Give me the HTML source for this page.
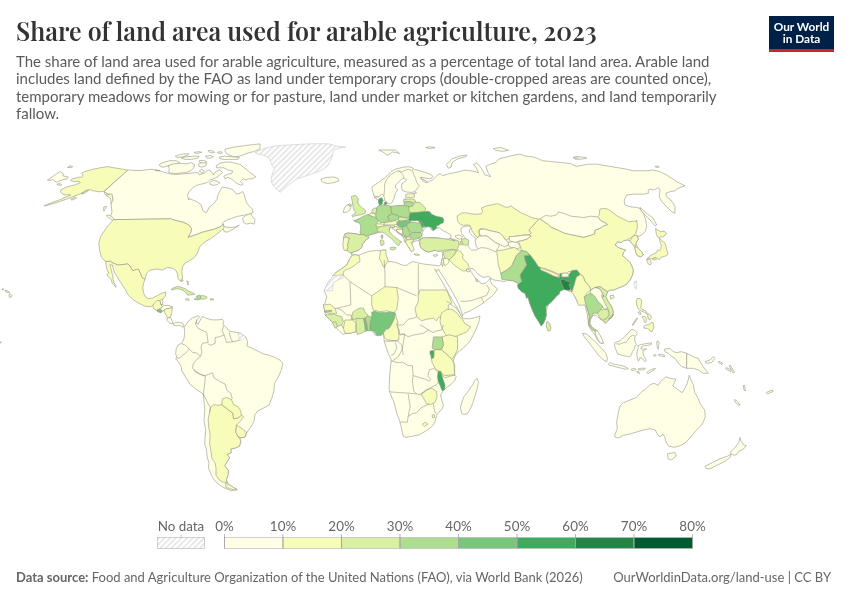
<!DOCTYPE html>
<html><head><meta charset="utf-8">
<style>
html,body{margin:0;padding:0;background:#fff;}
body{width:850px;height:600px;position:relative;overflow:hidden;font-family:"Lato","Liberation Sans",sans-serif;}
.t{position:absolute;white-space:nowrap;filter:grayscale(1);}
#title{left:16px;top:14.6px;transform:scaleY(1.07);transform-origin:0 26px;font-family:"Playfair Display","Liberation Serif",serif;font-weight:600;font-size:25px;line-height:32px;color:#333;}
#sub{left:16px;top:52.6px;font-size:15px;line-height:17.6px;color:#5b5b5b;}
#logo{position:absolute;left:769px;top:16px;width:65px;height:33px;background:#002147;border-bottom:3px solid #ce261e;}
#logo div{filter:grayscale(1);position:absolute;left:0;width:65px;text-align:center;color:#fff;font-weight:700;font-size:11.8px;line-height:12px;}
.lg{position:absolute;font-size:12.5px;color:#5b5b5b;}
#foot1{left:16px;top:568.5px;font-size:13px;color:#666;}
#foot2{right:19px;top:568.5px;font-size:13px;color:#666;}
svg{position:absolute;left:0;top:0;}
</style></head>
<body>
<div class="t" id="title">Share of land area used for arable agriculture, 2023</div>
<div class="t" id="sub">The share of land area used for arable agriculture, measured as a percentage of total land area. Arable land<br>includes land defined by the FAO as land under temporary crops (double-cropped areas are counted once),<br>temporary meadows for mowing or for pasture, land under market or kitchen gardens, and land temporarily<br>fallow.</div>
<div id="logo"><div style="top:4.6px">Our World</div><div style="top:16.6px">in Data</div></div>

<svg width="850" height="600" viewBox="0 0 850 600">
<defs>
<pattern id="hatch" patternUnits="userSpaceOnUse" width="4" height="4" patternTransform="rotate(45)">
<rect width="4" height="4" fill="#fff"/><rect width="1.5" height="4" fill="#e2e2e2"/>
</pattern>
</defs>
<g id="map" stroke-linejoin="round">
<path fill="#f7fcb9" stroke="#96968a" stroke-width="0.6" d="M127.9,170.1 113.1,167.6 107.8,166.6 99.3,167.9 91.9,169.5 84.5,171.6 81.8,173.2 82.9,175.9 81.8,177.5 80.2,176.9 71.8,179.1 70.7,180.6 73.9,181.7 79.2,181.2 80.2,182.8 74.9,184.9 66.5,187.0 61.2,189.6 60.6,191.8 62.2,193.9 65.4,194.9 70.7,194.9 61.2,199.2 44.2,205.5 44.8,206.1 59.1,201.8 71.8,197.1 80.2,193.9 86.6,190.2 89.8,189.6 92.9,190.7 99.3,191.8 104.1,191.2Z"/>
<path fill="#f7fcb9" stroke="#96968a" stroke-width="0.6" d="M104.3,191.3 106.3,192.3 107.0,195.0 109.0,194.3 112.0,193.0 113.0,195.0 112.7,198.3 113.0,200.3 114.3,202.3 112.3,203.7 111.0,204.3 111.0,201.0 110.3,198.3 108.3,196.3 106.0,195.7 104.3,193.0Z"/>
<path fill="#ffffe5" stroke="#96968a" stroke-width="0.6" d="M47.4,180.1 60.1,171.6 63.3,173.8 62.8,175.9 68.1,176.9 67.0,179.1 62.8,179.6 56.4,182.2 52.7,179.6 47.9,180.6Z"/>
<path fill="#f7fcb9" stroke="#96968a" stroke-width="0.6" d="M67.5,167.4 70.2,165.8 72.8,166.6 71.8,167.4Z"/>
<path fill="#f7fcb9" stroke="#96968a" stroke-width="0.6" d="M56.9,184.1 60.1,183.5 61.7,184.9 59.1,185.4Z"/>
<path fill="#f7fcb9" stroke="#96968a" stroke-width="0.6" d="M70.7,199.2 74.9,197.1 76.5,198.1 71.8,200.2Z"/>
<path fill="#f7fcb9" stroke="#96968a" stroke-width="0.6" d="M81.3,193.9 86.6,190.7 88.7,190.2 84.5,193.4Z"/>
<path fill="#ffffe5" stroke="#96968a" stroke-width="0.6" d="M128.0,170.0 140.0,170.6 152.0,169.2 160.0,170.6 155.2,170.4 160.4,171.1 166.8,173.0 172.0,174.3 178.5,174.3 186.2,173.6 192.7,173.0 197.9,172.4 199.2,174.9 204.4,173.0 208.2,169.8 210.8,171.1 213.4,174.9 214.7,172.4 217.3,171.1 219.9,169.8 222.5,172.4 219.9,174.9 217.3,176.9 213.4,178.8 209.5,180.1 206.9,182.7 201.8,184.0 196.6,185.3 192.7,187.9 188.8,191.8 187.5,195.6 188.8,200.0 188.8,198.5 195.9,201.2 201.2,204.7 202.9,210.9 206.5,212.6 209.1,207.3 213.5,203.8 217.1,199.4 217.9,195.0 220.6,189.7 222.3,187.1 227.6,187.9 232.9,189.7 236.5,194.1 240.0,193.2 242.6,191.5 244.4,195.0 246.2,202.1 248.8,205.6 252.3,209.1 253.2,212.6 248.8,214.4 243.5,215.3 238.2,216.2 232.9,217.9 227.6,219.7 224.1,221.5 222.3,224.1 223.2,224.1 220.6,226.8 213.5,229.4 202.9,232.1 195.9,234.7 187.9,237.4 190.6,232.9 191.5,228.5 188.8,225.0 183.5,222.4 172.9,219.7 171.2,218.8 112.9,219.7 110.0,218.0 112.0,212.0 111.0,204.0 113.0,200.0 112.0,194.0 108.0,194.0 104.0,191.6Z"/>
<path fill="#ffffe5" stroke="#96968a" stroke-width="0.6" d="M106.3,215.7 109.0,215.0 113.0,217.7 114.3,219.7 113.7,221.3 111.7,219.7 108.3,217.7Z"/>
<path fill="#ffffe5" stroke="#96968a" stroke-width="0.6" d="M103.7,207.0 106.7,206.3 105.0,209.0 104.0,211.3 103.5,209.7Z"/>
<path fill="#ffffe5" stroke="#96968a" stroke-width="0.6" d="M222.3,224.1 225.0,226.8 230.3,227.6 236.5,226.8 239.1,225.0 232.9,229.4 227.6,232.1 224.1,231.7Z"/>
<path fill="#ffffe5" stroke="#96968a" stroke-width="0.6" d="M242.6,217.9 246.2,215.3 250.6,213.5 252.3,216.2 255.0,219.7 254.1,224.1 250.6,223.2 246.2,224.1 243.5,222.3Z"/>
<path fill="#ffffe5" stroke="#96968a" stroke-width="0.6" d="M159.1,164.6 162.9,162.6 169.4,160.7 175.9,160.7 179.8,162.6 177.8,163.9 170.7,165.2 162.9,167.2 160.4,166.5Z"/>
<path fill="#ffffe5" stroke="#96968a" stroke-width="0.6" d="M168.1,165.9 173.3,163.9 179.8,163.3 186.2,163.9 191.4,162.6 194.6,164.6 194.0,167.8 190.1,171.1 186.2,172.4 181.1,173.0 175.9,173.6 170.7,173.0 168.1,171.7 169.4,169.8 168.8,167.2Z"/>
<path fill="#ffffe5" stroke="#96968a" stroke-width="0.6" d="M198.5,163.9 203.1,162.0 206.9,163.3 205.6,165.9 201.8,167.2 199.2,166.5Z"/>
<path fill="#ffffe5" stroke="#96968a" stroke-width="0.6" d="M199.2,171.1 201.8,169.1 204.4,171.1 201.8,173.0Z"/>
<path fill="#ffffe5" stroke="#96968a" stroke-width="0.6" d="M216.0,165.9 219.9,163.3 225.1,162.0 230.2,162.0 235.4,163.3 240.6,164.6 243.2,167.2 247.1,169.8 249.7,172.4 253.5,174.9 256.1,176.9 252.2,178.8 248.4,178.8 245.8,180.1 243.2,178.8 240.6,181.4 243.2,184.0 241.9,185.3 238.0,184.0 234.1,181.4 231.5,178.8 227.6,177.5 225.1,178.8 223.8,176.2 227.6,174.3 231.5,173.6 232.8,171.1 227.6,169.8 223.8,167.8 219.9,167.8 216.6,167.8Z"/>
<path fill="#ffffe5" stroke="#96968a" stroke-width="0.6" d="M209.5,182.7 213.4,180.1 217.3,181.4 219.9,182.7 217.3,184.6 213.4,185.3 210.2,184.6Z"/>
<path fill="#ffffe5" stroke="#96968a" stroke-width="0.6" d="M225.1,149.1 234.1,147.1 243.2,145.8 253.5,144.5 260.0,143.9 260.0,149.1 253.5,151.6 248.4,152.9 243.2,154.9 239.3,156.2 234.1,156.8 230.2,155.5 226.4,153.6 225.1,151.6Z"/>
<path fill="#ffffe5" stroke="#96968a" stroke-width="0.6" d="M219.9,156.8 225.1,156.2 232.8,156.8 239.3,157.5 238.0,159.4 230.2,159.4 222.5,159.4 219.2,158.1Z"/>
<path fill="#ffffe5" stroke="#96968a" stroke-width="0.6" d="M208.2,150.4 213.4,151.0 214.7,152.3 210.8,152.9 208.9,151.9Z"/>
<path fill="#ffffe5" stroke="#96968a" stroke-width="0.6" d="M217.3,152.3 221.2,151.6 222.5,152.9 218.6,153.6Z"/>
<path fill="#ffffe5" stroke="#96968a" stroke-width="0.6" d="M205.6,156.2 210.8,155.5 213.4,156.8 210.8,158.1 206.9,158.1Z"/>
<path fill="#ffffe5" stroke="#96968a" stroke-width="0.6" d="M175.2,156.2 181.1,154.2 188.8,153.6 187.5,155.5 182.4,156.8 177.2,157.5Z"/>
<path fill="#ffffe5" stroke="#96968a" stroke-width="0.6" d="M181.1,158.1 186.2,156.8 192.7,156.2 199.2,156.2 197.9,158.1 191.4,159.4 184.9,159.4Z"/>
<path fill="#ffffe5" stroke="#96968a" stroke-width="0.6" d="M194.0,152.3 199.2,151.6 201.8,152.3 196.6,153.6Z"/>
<path fill="#ffffe5" stroke="#96968a" stroke-width="0.6" d="M199.2,160.7 204.4,160.4 206.9,162.0 203.1,163.0 199.8,162.3Z"/>
<path fill="url(#hatch)" stroke="#c9c9c9" stroke-width="0.6" d="M255.0,152.6 264.7,148.2 275.3,145.9 292.9,144.7 310.6,143.8 328.2,143.8 338.8,146.5 345.9,147.0 337.9,148.2 333.5,150.9 331.8,157.9 328.2,165.0 322.9,169.4 317.6,172.1 307.1,175.6 296.5,179.1 289.4,184.4 284.1,188.8 280.6,192.3 277.1,189.7 273.5,186.2 270.9,180.9 271.8,175.6 274.4,168.5 271.8,165.0 269.1,157.9 261.2,154.4 255.9,153.5Z"/>
<path fill="#ffffe5" stroke="#96968a" stroke-width="0.6" d="M321.2,179.1 326.5,177.4 333.5,177.0 337.9,178.2 338.8,180.9 333.5,182.6 328.2,183.5 323.8,182.6 321.5,181.2Z"/>
<path fill="#f7fcb9" stroke="#96968a" stroke-width="0.6" d="M112.9,219.7 171.2,218.8 172.9,219.7 183.5,222.4 188.8,225.0 191.5,228.5 190.6,232.9 187.9,237.4 195.9,234.7 202.9,232.1 213.5,229.4 220.6,226.8 223.2,224.1 224.1,227.6 221.5,230.3 217.1,233.8 213.5,236.5 210.0,239.1 206.5,240.9 202.9,243.5 200.3,246.2 198.5,249.7 197.6,253.2 194.1,257.6 188.8,261.2 185.3,262.9 182.6,266.5 181.8,271.8 182.6,277.9 180.9,281.5 178.2,278.8 177.3,273.5 175.6,270.0 172.1,268.2 167.6,267.3 162.3,270.0 157.1,269.1 150.0,270.0 146.5,273.5 145.0,279.4 142.0,277.5 140.5,273.8 138.6,269.6 136.8,269.3 133.0,270.8 131.5,268.9 130.0,265.9 127.8,264.0 124.0,264.4 118.0,265.1 112.8,262.9 110.5,261.4 105.6,261.4 101.5,257.6 99.7,250.6 98.8,243.5 100.6,236.5 104.1,231.2 107.6,225.9 111.2,222.4Z"/>
<path fill="#f7fcb9" stroke="#96968a" stroke-width="0.6" d="M105.6,261.4 110.5,261.4 112.8,262.9 118.0,265.1 124.0,264.4 127.8,264.0 130.0,265.9 131.5,268.9 133.0,270.8 136.8,269.3 138.6,269.6 140.5,273.8 142.0,277.5 145.0,279.4 143.5,283.5 142.8,288.0 143.5,292.5 145.0,296.3 148.0,298.5 152.5,298.1 158.8,294.7 162.3,292.9 165.9,292.1 165.0,296.5 162.3,300.0 160.6,301.8 155.3,303.5 150.9,306.7 144.7,306.2 137.6,302.6 132.4,299.1 127.9,294.7 125.3,289.4 123.3,286.5 121.0,282.8 118.8,279.8 117.3,276.8 114.3,272.3 113.1,267.8 112.4,265.1 111.3,264.8 110.1,264.6 110.5,267.0 111.3,270.0 112.0,273.0 112.8,276.0 113.1,279.8 113.9,282.8 116.1,285.8 115.8,287.3 114.3,285.0 112.0,282.8 111.3,279.8 108.3,276.8 106.8,274.5 109.0,273.0 107.1,270.0 106.0,264.8Z"/>
<path fill="#d9f0a3" stroke="#96968a" stroke-width="0.6" d="M171.1,289.5 173.5,287.8 176.4,286.7 179.9,286.7 182.7,287.8 185.5,288.8 187.6,290.6 190.5,292.0 193.3,293.1 194.7,294.1 192.6,294.8 189.8,294.8 187.6,295.2 186.6,293.8 185.2,292.0 182.7,290.2 179.9,289.2 177.1,288.8 174.2,289.2 172.1,290.2Z"/>
<path fill="#f7fcb9" stroke="#96968a" stroke-width="0.6" d="M186.6,281.1 188.0,281.4 188.5,282.8 187.3,282.5Z"/>
<path fill="#f7fcb9" stroke="#96968a" stroke-width="0.6" d="M187.3,283.5 188.5,283.7 188.7,284.8 187.6,284.7Z"/>
<path fill="#f7fcb9" stroke="#96968a" stroke-width="0.6" d="M180.6,280.0 183.1,280.0 182.7,281.3 181.2,281.4Z"/>
<path fill="#addd8e" stroke="#96968a" stroke-width="0.6" d="M195.9,296.5 199.4,295.1 200.8,295.8 200.3,299.1 197.6,300.0 194.1,299.1 197.6,297.9Z"/>
<path fill="#d9f0a3" stroke="#96968a" stroke-width="0.6" d="M200.8,295.8 203.8,295.6 207.3,297.3 204.7,299.1 200.3,299.1Z"/>
<path fill="#f7fcb9" stroke="#96968a" stroke-width="0.6" d="M185.3,299.1 187.9,298.6 189.7,300.0 186.7,300.3Z"/>
<path fill="#f7fcb9" stroke="#96968a" stroke-width="0.6" d="M210.0,298.8 213.2,298.8 213.5,300.0 210.3,300.0Z"/>
<path fill="#ffffe5" stroke="#96968a" stroke-width="0.6" d="M159.8,300.5 161.9,299.1 162.9,301.2 162.3,304.7 160.9,304.7Z"/>
<path fill="#f7fcb9" stroke="#96968a" stroke-width="0.6" d="M152.7,305.4 154.8,302.6 156.9,300.5 159.8,300.5 160.9,304.7 162.6,306.8 159.8,308.9 156.9,310.4 153.4,308.2Z"/>
<path fill="#78c679" stroke="#96968a" stroke-width="0.6" d="M156.9,310.4 159.8,308.9 162.6,311.1 161.2,312.8 157.6,311.8Z"/>
<path fill="#ffffe5" stroke="#96968a" stroke-width="0.6" d="M160.9,304.7 162.3,304.7 164.0,305.4 168.2,305.4 172.5,306.8 170.4,308.2 166.1,308.9 164.0,310.4 162.6,311.1 159.8,308.9 162.6,306.8Z"/>
<path fill="#f7fcb9" stroke="#96968a" stroke-width="0.6" d="M164.0,310.4 166.1,308.9 170.4,308.2 172.5,307.5 171.8,312.5 170.4,317.4 167.5,318.1 166.1,315.3 164.7,312.5Z"/>
<path fill="#ffffe5" stroke="#96968a" stroke-width="0.6" d="M167.5,318.1 170.4,317.4 171.8,320.2 173.2,323.8 171.1,323.8 168.9,322.4 166.8,320.2Z"/>
<path fill="#ffffe5" stroke="#96968a" stroke-width="0.6" d="M173.2,323.8 175.3,322.4 179.5,322.4 182.4,323.1 183.8,325.2 183.1,327.3 180.9,325.9 178.1,325.2 176.0,325.9 173.9,325.2Z"/>
<path fill="#ffffe5" stroke="#96968a" stroke-width="0.6" d="M184.1,326.9 188.4,321.3 192.6,317.8 198.2,315.6 199.6,317.1 196.8,319.9 196.1,323.4 198.2,324.1 200.4,319.9 202.5,316.4 206.7,318.5 212.4,319.9 218.0,319.9 222.2,319.2 223.6,321.3 222.9,324.1 225.8,326.9 229.3,331.2 233.5,331.9 237.8,332.6 240.6,333.3 242.7,334.7 245.5,336.8 247.7,341.8 246.9,346.0 251.9,348.1 257.5,350.9 263.2,353.8 268.8,355.2 274.5,357.3 280.1,360.1 282.9,363.6 281.5,369.3 278.7,376.4 274.5,383.4 273.9,391.2 271.8,398.2 268.9,405.3 263.3,408.1 257.7,410.9 254.8,415.2 254.1,420.8 252.0,425.1 249.2,429.3 247.1,432.1 244.9,437.1 240.7,437.8 237.9,436.4 239.9,438.7 240.9,441.9 239.3,446.3 235.5,447.9 230.7,449.0 231.2,452.8 226.9,454.4 229.6,457.6 227.4,461.4 224.7,465.8 228.5,470.7 227.9,475.5 226.3,479.9 227.4,482.6 229.0,484.7 233.4,487.5 237.2,489.6 231.2,490.7 226.9,489.1 221.4,486.4 217.1,483.1 213.3,478.8 210.6,473.4 208.4,467.9 209.0,462.5 207.3,458.2 206.3,448.4 204.6,444.1 205.2,436.5 205.7,430.0 204.0,420.8 204.7,409.5 204.0,401.1 203.3,394.0 196.9,389.8 189.9,384.1 185.6,377.1 181.4,370.0 181.3,366.5 178.5,362.2 175.6,358.7 177.1,358.0 175.6,353.8 176.4,348.1 178.5,344.6 182.0,343.2 184.1,338.2 184.8,332.6Z"/>
<path fill="#f7fcb9" stroke="#96968a" stroke-width="0.6" d="M210.4,407.4 213.9,404.6 218.1,405.3 221.6,404.6 228.0,409.5 232.9,413.1 233.6,418.7 237.9,418.0 241.4,415.2 243.5,416.6 240.7,420.8 236.5,425.1 235.8,432.1 237.9,436.4 239.9,438.7 240.9,441.9 239.3,446.3 235.5,447.9 230.7,449.0 231.2,452.8 226.9,454.4 229.6,457.6 227.4,461.4 224.7,465.8 228.5,470.7 227.9,475.5 226.3,479.9 227.4,482.6 222.5,482.0 219.3,479.9 216.0,475.5 216.0,467.9 214.9,462.5 211.7,458.2 211.1,451.7 209.5,443.0 210.1,436.5 209.5,430.0 208.9,429.3 208.2,419.4 209.6,412.4Z"/>
<path fill="#f7fcb9" stroke="#96968a" stroke-width="0.6" d="M225.6,483.3 229.6,484.7 233.4,487.5 237.2,489.6 233.4,489.8 225.8,487.5Z"/>
<path fill="#f7fcb9" stroke="#96968a" stroke-width="0.6" d="M221.6,404.6 222.4,398.9 226.6,397.5 231.5,399.6 233.6,404.6 237.9,406.7 240.7,410.9 241.4,415.2 237.9,418.0 233.6,418.7 232.9,413.1 228.0,409.5Z"/>
<path fill="#f7fcb9" stroke="#96968a" stroke-width="0.6" d="M236.5,425.1 242.1,428.6 246.4,432.1 244.9,437.1 240.7,437.8 237.9,436.4 235.8,432.1Z"/>
<path fill="url(#hatch)" stroke="#c9c9c9" stroke-width="0.6" d="M238.5,333.3 240.6,333.3 242.7,334.7 245.5,336.8 242.7,339.6 239.2,340.4Z"/>
<path fill="#ffffe5" stroke="#96968a" stroke-width="0.6" d="M351.7,252.0 349.2,250.8 346.7,247.5 343.3,246.7 344.2,241.7 343.3,238.3 344.2,235.0 345.0,233.7 348.3,233.0 355.0,233.7 360.0,234.7 365.0,234.7 365.8,231.7 365.0,228.3 362.5,224.2 357.5,221.7 354.2,220.8 358.3,219.2 363.3,218.3 367.5,216.7 370.8,214.2 374.2,211.7 375.8,208.3 378.3,206.7 380.0,205.8 379.2,202.5 378.3,199.2 380.8,197.5 374.1,196.1 372.7,191.4 371.8,188.1 373.2,185.8 377.9,182.9 381.6,180.1 385.4,177.3 388.2,174.5 391.1,171.6 394.8,169.3 398.6,168.4 402.4,167.4 406.1,166.8 409.9,166.9 412.7,167.9 414.6,169.8 416.5,169.8 421.2,171.2 425.9,172.6 430.6,174.5 432.9,176.4 431.5,178.2 428.7,178.7 425.9,178.2 422.1,177.3 420.7,177.3 422.1,179.2 425.9,181.1 427.8,182.5 429.6,181.1 432.5,180.1 434.4,178.2 437.2,175.4 440.0,173.5 442.6,175.8 448.2,173.9 457.6,172.0 465.2,170.1 472.7,171.1 476.5,172.0 478.4,172.9 476.5,168.2 473.6,164.5 476.5,163.0 480.2,166.4 483.1,171.1 484.9,174.8 490.6,176.7 487.8,172.0 485.9,166.4 489.6,164.5 495.3,162.6 499.1,158.8 506.6,156.9 514.1,155.1 519.8,154.1 525.4,156.0 532.9,156.9 538.6,158.8 542.4,160.7 551.8,161.6 561.2,162.6 570.6,163.5 576.2,166.4 588.3,164.2 596.7,164.2 606.7,165.8 616.7,167.5 626.7,169.2 633.3,170.8 640.0,170.8 646.7,170.8 653.3,170.0 660.0,171.7 666.7,175.0 671.7,178.3 676.7,181.7 680.0,183.3 685.0,185.8 680.0,187.5 676.7,189.2 675.0,190.8 670.0,191.7 665.8,193.3 666.7,196.7 670.8,200.0 673.3,203.3 675.0,206.7 675.0,213.3 671.7,211.7 666.7,206.7 661.7,201.7 659.2,196.7 660.0,190.0 658.3,187.5 655.8,189.2 653.3,190.0 650.8,189.2 648.3,190.0 648.3,193.3 643.3,194.2 638.3,194.2 633.3,194.2 626.7,195.0 624.2,200.0 625.0,205.0 630.0,206.7 636.7,207.5 640.0,208.3 643.3,213.3 645.8,220.0 646.7,226.7 645.0,231.7 641.7,235.0 638.3,236.7 636.7,235.0 638.3,239.2 635.8,243.3 638.3,248.3 641.7,251.7 643.3,255.0 640.8,256.7 637.5,255.8 635.8,252.5 635.0,248.3 633.3,245.0 631.7,243.3 630.0,240.8 626.7,240.0 623.3,240.8 621.7,242.5 617.5,241.7 615.0,245.0 618.3,247.5 622.5,249.2 625.8,250.0 623.3,252.5 622.5,255.8 625.8,258.3 630.0,262.5 631.7,265.8 633.3,270.0 632.5,275.0 630.0,280.0 626.7,284.2 621.7,286.7 617.5,288.3 613.3,290.0 610.0,290.0 607.5,291.7 605.8,296.7 608.3,301.7 611.7,306.7 613.3,311.7 612.5,316.7 608.3,319.2 613.3,314.2 610.8,318.3 605.0,323.3 603.3,320.8 600.0,319.2 597.5,316.7 595.0,315.0 592.5,315.8 590.8,319.2 590.0,323.3 591.7,327.5 595.0,330.8 598.3,334.2 601.7,339.2 603.3,343.3 600.8,343.3 597.5,340.0 595.0,335.0 592.5,331.7 590.0,328.3 588.3,325.0 588.3,321.7 587.5,311.7 585.0,301.7 578.3,303.3 575.8,298.3 573.3,293.3 572.5,290.0 570.0,291.7 566.7,290.0 563.3,286.7 560.8,281.7 568.3,282.5 566.7,285.0 563.3,286.7 560.0,288.3 556.7,291.7 553.3,296.7 550.0,301.7 547.5,306.7 545.8,313.3 546.5,315.0 545.0,320.0 543.0,324.0 541.3,326.0 539.0,322.0 535.0,316.0 532.0,309.0 530.0,304.0 528.0,297.0 526.7,298.3 525.0,293.3 521.7,291.7 518.3,288.3 517.5,285.0 519.2,283.3 518.3,283.3 513.3,280.8 506.7,280.0 505.0,281.6 500.9,281.0 496.2,280.4 493.2,279.7 491.0,278.4 490.2,278.8 490.6,281.5 492.1,284.4 495.0,287.1 497.5,288.8 494.7,293.3 490.7,297.3 486.7,300.0 484.0,302.7 477.3,306.7 470.7,310.7 464.0,313.3 462.0,316.0 462.7,318.7 470.7,318.7 476.0,317.3 480.0,316.0 478.7,322.7 476.0,329.3 473.3,334.7 470.7,340.0 468.8,342.6 463.2,348.2 457.5,352.5 454.7,356.7 453.3,360.9 454.7,365.2 454.7,375.1 456.1,376.5 454.7,380.7 450.5,384.9 446.2,387.8 443.4,390.6 440.6,394.8 442.0,400.9 443.4,405.2 442.0,409.4 437.1,413.6 436.4,416.5 434.9,422.1 432.1,426.4 426.5,430.6 419.4,434.8 412.4,436.2 406.0,437.4 403.2,436.2 401.1,426.4 399.6,420.7 396.8,413.6 394.0,402.4 389.8,392.5 389.1,388.2 389.8,374.1 391.2,360.0 391.2,359.5 388.4,353.9 385.5,345.4 384.1,341.2 384.2,340.0 383.3,333.3 378.3,335.8 375.0,335.0 371.7,330.0 367.5,330.0 365.0,330.8 360.0,331.7 355.8,331.7 350.0,333.3 345.0,333.3 343.3,335.0 336.7,328.3 333.3,323.3 330.0,320.0 325.0,315.0 325.0,312.5 324.2,308.3 323.3,305.0 325.0,303.3 326.7,296.7 324.2,290.8 327.5,283.3 331.7,278.3 335.0,273.3 343.3,267.5 346.7,265.0 350.0,258.3 351.7,255.8Z"/>
<path fill="#ffffe5" stroke="#96968a" stroke-width="0.6" d="M461.8,413.6 460.4,408.0 461.8,402.4 463.9,396.7 467.4,392.5 470.2,388.2 473.1,384.0 475.2,379.8 477.3,378.4 478.4,382.6 477.3,388.2 475.2,395.3 473.1,402.4 470.2,409.4 467.4,413.6 463.9,414.4Z"/>
<path fill="#ffffe5" stroke="#96968a" stroke-width="0.6" d="M378.8,150.0 382.6,151.9 387.3,155.2 390.1,153.8 392.0,151.9 397.6,152.8 399.5,153.8 395.8,150.0Z"/>
<path fill="#ffffe5" stroke="#96968a" stroke-width="0.6" d="M446.4,164.5 452.0,158.8 459.5,156.0 467.1,155.1 465.2,156.9 457.6,158.8 452.0,162.6 451.1,167.3 448.2,168.2Z"/>
<path fill="#ffffe5" stroke="#96968a" stroke-width="0.6" d="M493.4,148.5 500.9,147.5 508.5,150.4 502.8,151.3 495.3,150.4Z"/>
<path fill="#ffffe5" stroke="#96968a" stroke-width="0.6" d="M425.6,147.5 430.4,146.8 435.1,147.5 430.4,148.7Z"/>
<path fill="#ffffe5" stroke="#96968a" stroke-width="0.6" d="M573.4,157.3 578.1,156.6 580.0,158.8 575.3,159.2Z"/>
<path fill="#ffffe5" stroke="#96968a" stroke-width="0.6" d="M640.0,207.5 646.7,213.3 653.3,218.3 656.7,225.0 655.0,225.8 650.0,220.0 645.0,215.0 640.8,210.0Z"/>
<path fill="#ffffe5" stroke="#96968a" stroke-width="0.6" d="M655.0,166.3 658.3,166.0 659.2,167.3 655.8,167.3Z"/>
<path fill="#ffffe5" stroke="#96968a" stroke-width="0.6" d="M573.3,157.5 580.0,156.7 586.7,158.0 581.7,159.2 575.0,158.7Z"/>
<path fill="#fff" stroke="#96968a" stroke-width="0.6" d="M350.8,253.3 354.2,251.7 358.3,250.4 361.7,247.5 362.5,244.2 365.8,240.0 368.3,238.3 369.2,235.0 380.0,232.0 383.3,231.7 386.7,233.0 389.2,230.0 390.8,227.5 392.5,228.0 393.3,228.3 396.7,231.7 400.0,234.2 401.7,235.8 403.8,236.7 404.6,240.0 406.2,242.5 408.3,246.7 410.0,249.2 411.7,251.7 412.5,247.5 411.7,244.2 413.3,241.7 416.7,240.8 419.2,240.4 420.0,245.0 420.8,247.5 422.5,249.2 425.0,250.8 428.3,252.1 431.7,251.2 435.0,250.4 438.3,251.2 441.7,250.8 442.5,253.3 442.5,257.5 441.7,261.7 440.4,265.0 439.2,265.8 435.8,265.4 431.7,265.0 428.3,264.6 424.2,264.2 420.0,263.3 416.7,262.5 412.5,261.7 409.2,263.3 406.7,265.4 403.3,265.4 399.2,263.8 395.8,262.5 391.7,261.7 387.5,261.7 384.2,260.0 383.3,255.0 385.8,250.0 383.3,250.0 380.4,250.8 376.7,250.4 370.0,251.2 364.2,252.9 358.8,255.4 354.2,254.6Z"/>
<path fill="#fff" stroke="#96968a" stroke-width="0.6" d="M421.7,236.7 422.5,232.5 424.2,229.2 426.7,226.7 430.0,225.8 431.7,227.5 430.4,229.2 434.2,230.0 436.7,228.3 439.2,227.5 440.8,229.2 443.3,230.8 446.7,232.5 450.8,235.0 450.8,237.5 448.3,239.2 443.3,239.2 438.3,237.9 432.5,237.5 426.7,237.9 423.3,238.3Z"/>
<path fill="#fff" stroke="#96968a" stroke-width="0.6" d="M461.7,227.5 468.3,225.8 471.7,227.5 469.2,230.0 470.0,233.3 473.3,236.7 475.8,238.3 476.7,243.3 479.2,246.7 476.7,250.0 471.7,250.0 468.3,246.7 467.5,241.7 465.0,237.5 461.7,233.3 460.8,230.0Z"/>
<path fill="#fff" stroke="#96968a" stroke-width="0.6" d="M434.7,269.3 438.0,274.7 442.0,281.3 446.0,288.7 450.0,296.0 454.0,302.7 457.3,308.0 460.0,313.3 461.6,316.7 462.4,316.0 461.1,310.7 459.3,305.3 456.3,299.3 453.1,293.3 449.6,287.3 446.0,281.3 442.7,276.0 440.0,272.0 438.7,269.3 437.1,271.3Z"/>
<path fill="#fff" stroke="#96968a" stroke-width="0.6" d="M470.0,268.5 473.2,268.5 475.6,271.5 477.9,273.8 480.9,276.2 483.8,277.4 486.8,276.8 489.7,276.8 491.0,278.4 490.2,278.8 489.1,279.7 487.9,280.9 485.6,283.2 483.2,283.8 480.3,283.2 479.7,281.5 477.9,280.9 476.8,279.1 475.6,278.5 473.2,275.0 471.5,272.1 470.3,270.9Z"/>
<path fill="#fff" stroke="#96968a" stroke-width="0.6" d="M374.1,197.1 378.8,197.1 381.6,194.2 383.5,195.2 384.3,197.5 384.9,200.8 387.3,202.7 389.2,204.1 392.0,202.7 393.9,198.9 394.8,195.2 395.8,192.4 397.6,189.5 395.3,187.6 395.8,184.8 398.6,182.0 401.4,179.2 404.2,178.2 406.6,180.1 404.2,182.0 401.9,183.9 401.4,187.6 402.4,190.5 406.1,191.9 410.8,192.4 414.6,191.9 416.5,192.8 412.7,194.2 407.1,195.2 405.2,198.9 404.2,205.0 395.8,206.5 386.4,206.5Z"/>
<path fill="#fff" stroke="#96968a" stroke-width="0.6" d="M420.7,177.5 422.3,179.2 425.9,180.9 427.4,182.2 425.9,182.8 423.1,181.1 421.2,179.2Z"/>
<path fill="#ffffe5" stroke="#96968a" stroke-width="0.6" d="M343.3,212.5 344.2,208.3 346.7,205.0 349.2,204.2 351.2,205.0 350.8,207.5 350.0,210.0 347.5,211.7 345.0,212.5Z"/>
<path fill="#d9f0a3" stroke="#96968a" stroke-width="0.6" d="M348.3,204.6 349.6,203.8 351.2,204.6 350.8,206.2 349.2,206.2Z"/>
<path fill="#d9f0a3" stroke="#96968a" stroke-width="0.6" d="M351.3,196.6 355.5,195.2 358.4,198.7 357.6,202.9 357.5,202.5 359.2,205.0 361.7,207.5 364.2,209.2 365.8,210.8 365.0,213.3 361.7,214.6 356.7,215.4 352.5,216.7 351.7,215.8 353.8,214.2 355.8,212.5 354.2,210.8 353.3,208.3 352.9,205.8 352.5,203.3 352.7,203.6 352.0,200.1Z"/>
<path fill="#addd8e" stroke="#96968a" stroke-width="0.6" d="M353.8,220.4 356.7,220.0 360.0,217.9 362.5,216.7 365.8,215.0 368.3,214.6 371.7,216.2 374.2,217.1 376.7,218.8 378.3,220.4 377.5,222.5 375.8,224.6 376.7,226.7 377.5,229.2 378.3,230.8 377.5,232.5 375.0,233.3 371.7,234.2 369.2,235.0 367.5,235.8 365.0,235.8 362.5,234.6 360.0,233.3 360.4,230.0 360.8,226.7 360.0,224.2 358.3,222.5 355.0,221.7Z"/>
<path fill="#addd8e" stroke="#96968a" stroke-width="0.6" d="M381.2,235.5 382.5,234.8 383.0,236.5 382.5,238.5 381.5,238.2 381.0,237.0Z"/>
<path fill="#f7fcb9" stroke="#96968a" stroke-width="0.6" d="M368.3,214.6 371.7,212.9 374.2,213.3 375.8,215.4 375.4,217.5 374.2,217.1 371.7,216.2Z"/>
<path fill="#d9f0a3" stroke="#96968a" stroke-width="0.6" d="M371.7,212.9 372.5,209.2 375.0,207.9 376.7,208.3 376.7,211.7 375.8,213.3 374.2,213.3Z"/>
<path fill="#addd8e" stroke="#96968a" stroke-width="0.6" d="M376.7,208.3 378.3,205.8 381.7,205.8 386.7,205.0 390.8,206.2 391.2,209.2 391.7,213.3 390.0,215.0 387.9,216.2 389.2,220.0 387.9,222.1 384.2,222.5 380.0,222.5 378.3,220.4 376.7,218.8 375.8,215.4 375.8,213.3 376.7,211.7Z"/>
<path fill="#f7fcb9" stroke="#96968a" stroke-width="0.6" d="M375.8,224.6 377.5,223.8 380.8,223.8 383.3,224.2 384.2,225.8 381.7,227.1 379.2,227.1 377.1,226.7Z"/>
<path fill="#f7fcb9" stroke="#96968a" stroke-width="0.6" d="M384.2,222.5 387.9,222.1 390.0,221.7 393.3,220.8 395.8,220.8 397.5,222.1 396.7,224.2 393.3,225.0 390.0,225.0 386.7,225.0 384.2,224.6Z"/>
<path fill="#addd8e" stroke="#96968a" stroke-width="0.6" d="M387.9,216.2 390.0,215.0 393.3,214.2 396.7,215.0 399.2,216.7 398.3,219.2 395.8,220.0 393.3,220.8 390.0,221.7 389.2,220.0Z"/>
<path fill="#addd8e" stroke="#96968a" stroke-width="0.6" d="M390.8,206.2 395.0,205.8 400.0,205.4 405.8,205.8 407.8,205.1 409.9,209.3 409.2,213.5 410.6,216.4 406.7,217.9 403.3,217.5 400.8,216.7 399.2,216.7 396.7,215.0 393.3,214.2 391.7,213.3 391.2,209.2Z"/>
<path fill="#d9f0a3" stroke="#96968a" stroke-width="0.6" d="M399.2,216.7 403.3,217.5 406.7,217.9 408.3,219.6 405.8,220.4 401.7,221.2 398.3,220.8 398.3,219.2Z"/>
<path fill="#78c679" stroke="#96968a" stroke-width="0.6" d="M397.5,222.1 398.3,220.8 401.7,221.2 405.8,220.4 408.3,220.8 410.8,221.2 410.0,224.2 406.7,225.8 403.3,227.5 400.0,227.1 397.5,225.8 396.7,224.2Z"/>
<path fill="#ffffe5" stroke="#96968a" stroke-width="0.6" d="M390.2,226.0 392.0,225.8 394.5,226.0 395.0,227.0 393.0,227.5 391.0,227.5Z"/>
<path fill="#f7fcb9" stroke="#96968a" stroke-width="0.6" d="M394.0,226.2 396.0,226.5 398.5,227.5 401.0,228.0 403.0,228.5 402.5,229.5 400.0,229.2 397.0,229.2 396.0,230.0 398.0,232.0 401.0,234.0 403.0,235.0 402.0,235.5 399.0,233.5 396.0,231.5 393.5,229.0 392.0,228.0 393.0,227.5 395.0,227.0Z"/>
<path fill="#ffffe5" stroke="#96968a" stroke-width="0.6" d="M396.0,229.5 400.0,229.2 402.5,229.5 403.0,231.5 402.5,234.0 401.0,234.0 398.0,232.0 396.0,230.0Z"/>
<path fill="#addd8e" stroke="#96968a" stroke-width="0.6" d="M402.5,227.1 405.8,226.2 407.5,227.9 409.2,230.8 410.0,234.2 409.2,236.2 406.7,236.7 404.6,235.8 402.9,233.3 402.5,229.2Z"/>
<path fill="#addd8e" stroke="#96968a" stroke-width="0.6" d="M406.7,224.2 410.0,222.5 415.0,222.5 420.0,223.3 421.7,226.7 422.5,230.0 420.8,232.5 416.7,232.5 412.5,232.5 410.8,232.1 409.2,230.8 407.5,227.5Z"/>
<path fill="#addd8e" stroke="#96968a" stroke-width="0.6" d="M410.0,233.3 412.5,232.5 416.7,232.5 420.8,232.5 421.7,235.0 420.8,236.7 419.2,238.3 415.8,239.2 412.5,239.2 410.8,237.5Z"/>
<path fill="#f7fcb9" stroke="#96968a" stroke-width="0.6" d="M403.8,236.7 405.4,236.7 406.2,239.6 405.8,242.5 404.3,241.8Z"/>
<path fill="#f7fcb9" stroke="#96968a" stroke-width="0.6" d="M406.5,237.1 410.0,237.1 410.8,239.2 407.9,240.0 406.2,239.3Z"/>
<path fill="#ffffe5" stroke="#96968a" stroke-width="0.6" d="M402.1,235.4 403.8,235.0 404.2,236.7 402.9,237.1Z"/>
<path fill="#f7fcb9" stroke="#96968a" stroke-width="0.6" d="M405.0,235.8 406.7,236.2 406.5,237.5 405.0,237.1Z"/>
<path fill="#f7fcb9" stroke="#96968a" stroke-width="0.6" d="M405.8,240.0 410.8,239.6 414.2,240.0 413.3,241.7 410.8,242.5 412.5,245.0 413.3,247.5 414.2,250.0 411.7,251.7 410.0,249.2 408.3,246.7 406.7,244.2 405.8,242.5Z"/>
<path fill="#f7fcb9" stroke="#96968a" stroke-width="0.6" d="M413.8,254.2 416.7,253.8 419.6,255.0 416.7,255.4Z"/>
<path fill="#d9f0a3" stroke="#96968a" stroke-width="0.6" d="M420.0,239.2 424.2,237.5 429.2,237.9 435.0,237.9 441.7,238.3 446.7,239.2 450.8,240.0 455.0,240.8 450.0,238.3 458.3,240.8 459.2,245.0 456.7,250.0 453.3,249.7 451.7,249.2 448.3,250.0 445.0,250.0 441.7,250.8 438.3,251.2 435.0,250.4 431.7,251.2 428.3,252.1 425.0,250.8 422.5,249.2 420.8,247.5 420.0,245.0 419.6,241.7Z"/>
<path fill="#d9f0a3" stroke="#96968a" stroke-width="0.6" d="M418.3,237.9 420.4,237.5 421.7,238.8 420.0,239.3 418.8,239.2Z"/>
<path fill="#f7fcb9" stroke="#96968a" stroke-width="0.6" d="M433.3,255.4 436.7,254.2 437.9,255.0 435.0,256.7Z"/>
<path fill="#d9f0a3" stroke="#96968a" stroke-width="0.6" d="M443.3,251.7 448.3,250.5 453.3,249.7 456.7,250.8 454.2,255.0 449.2,260.0 445.0,258.7 443.7,255.3Z"/>
<path fill="#f7fcb9" stroke="#96968a" stroke-width="0.6" d="M441.7,259.2 443.3,258.7 443.7,263.3 442.5,266.7 441.3,262.5Z"/>
<path fill="#f7fcb9" stroke="#96968a" stroke-width="0.6" d="M456.7,250.8 458.3,250.0 461.7,252.5 463.3,255.8 462.6,256.2 462.9,258.5 465.0,260.9 467.9,263.8 469.1,267.4 468.5,269.1 466.8,269.1 466.2,270.9 462.6,270.9 458.5,268.2 455.0,265.6 451.7,262.5 449.2,260.0 454.2,255.0Z"/>
<path fill="#ffffe5" stroke="#96968a" stroke-width="0.6" d="M466.8,269.1 468.5,269.1 469.7,270.9 469.1,272.1 466.5,271.2Z"/>
<path fill="#ffffe5" stroke="#96968a" stroke-width="0.6" d="M475.6,278.5 477.1,279.7 477.4,281.8 476.2,281.2Z"/>
<path fill="#d9f0a3" stroke="#96968a" stroke-width="0.6" d="M460.0,241.7 463.3,240.8 465.0,243.3 462.5,245.0 460.0,244.2Z"/>
<path fill="#f7fcb9" stroke="#96968a" stroke-width="0.6" d="M406.1,194.2 410.8,193.8 414.1,193.8 414.6,197.1 410.8,197.5 407.1,197.1 405.2,196.1Z"/>
<path fill="#d9f0a3" stroke="#96968a" stroke-width="0.6" d="M403.3,199.6 408.3,198.8 414.2,199.2 415.8,201.7 412.5,202.5 408.3,201.7 405.0,202.1 403.3,201.2Z"/>
<path fill="#addd8e" stroke="#96968a" stroke-width="0.6" d="M403.8,202.1 408.3,201.7 412.5,202.5 413.8,204.2 412.5,206.2 409.2,206.7 405.8,205.8 404.2,204.2Z"/>
<path fill="#d9f0a3" stroke="#96968a" stroke-width="0.6" d="M409.2,206.7 412.5,206.2 413.8,204.2 415.8,202.1 420.0,202.5 422.5,205.0 425.0,207.5 425.8,209.2 424.2,211.7 420.8,212.1 416.7,212.5 412.5,212.9 410.0,212.5 408.8,210.0Z"/>
<path fill="#41ab5d" stroke="#96968a" stroke-width="0.6" d="M410.0,212.9 416.7,212.5 420.8,212.1 424.2,211.7 427.5,211.2 429.6,211.7 431.7,214.2 435.0,215.8 438.3,216.7 442.5,217.5 443.8,220.0 443.3,222.5 440.8,223.8 438.3,225.4 436.7,225.8 436.7,227.9 435.0,229.2 432.9,230.8 432.1,228.3 430.0,227.1 427.5,226.7 425.8,226.7 425.0,227.5 423.3,225.0 422.5,222.9 420.8,221.2 417.9,220.4 414.2,220.8 410.0,220.8 408.3,220.0 409.2,217.1Z"/>
<path fill="#41ab5d" stroke="#96968a" stroke-width="0.6" d="M417.9,220.4 420.8,221.2 422.5,222.9 423.8,225.4 423.3,227.9 422.1,227.1 420.8,223.8Z"/>
<path fill="#41ab5d" stroke="#96968a" stroke-width="0.6" d="M378.5,199.5 380.0,198.3 382.0,197.8 382.6,199.5 383.3,200.8 382.3,202.2 381.8,204.8 379.6,205.1 378.6,203.0Z"/>
<path fill="#41ab5d" stroke="#96968a" stroke-width="0.6" d="M384.2,202.4 386.0,201.8 387.0,203.0 386.5,204.4 384.5,204.6Z"/>
<path fill="#d9f0a3" stroke="#96968a" stroke-width="0.6" d="M377.2,229.0 378.0,227.5 381.0,226.5 384.0,226.0 387.0,225.5 389.5,225.5 390.5,226.5 389.8,227.8 389.2,229.5 389.8,231.5 391.5,234.0 394.0,236.5 396.0,238.0 398.0,239.5 400.0,241.0 401.8,242.2 401.0,242.9 399.5,242.4 398.8,243.1 399.5,244.5 398.6,245.8 397.2,245.2 396.2,243.8 394.0,241.2 391.5,238.8 389.0,236.8 386.5,234.8 384.5,233.2 382.5,232.2 380.0,232.1 378.0,231.6 377.0,230.5Z"/>
<path fill="#d9f0a3" stroke="#96968a" stroke-width="0.6" d="M390.0,247.8 392.0,247.2 394.5,247.2 396.0,247.5 395.0,249.5 392.5,250.0 390.5,249.5Z"/>
<path fill="#d9f0a3" stroke="#96968a" stroke-width="0.6" d="M380.2,240.2 382.5,240.0 383.8,241.0 384.0,244.0 383.0,245.2 381.2,245.5 380.5,243.5Z"/>
<path fill="#d9f0a3" stroke="#96968a" stroke-width="0.6" d="M345.0,233.7 348.3,233.0 355.0,233.7 360.0,234.7 365.0,234.7 365.0,235.8 367.5,236.7 368.8,237.9 368.3,238.3 365.8,240.0 362.5,244.2 361.7,247.5 358.3,250.4 354.2,251.7 350.4,252.9 346.7,250.4 347.9,247.5 347.5,245.0 348.3,241.7 349.2,238.3 345.8,237.1 344.2,235.0Z"/>
<path fill="#f7fcb9" stroke="#96968a" stroke-width="0.6" d="M343.8,237.5 345.8,237.1 349.2,238.3 348.3,241.7 347.5,245.0 347.9,247.5 346.7,250.4 344.2,250.4 342.9,245.8 343.3,240.8Z"/>
<path fill="#f7fcb9" stroke="#96968a" stroke-width="0.6" d="M335.0,273.3 343.3,267.5 346.7,265.0 350.0,258.3 351.7,255.8 354.2,254.6 358.8,255.4 359.6,258.3 360.0,261.7 356.7,263.3 354.2,265.8 350.0,268.3 345.8,270.0 343.3,271.7 343.3,275.0 332.5,275.8Z"/>
<path fill="url(#hatch)" stroke="#c9c9c9" stroke-width="0.6" d="M332.5,275.8 343.3,275.0 343.3,277.5 333.3,282.5 332.5,290.8 324.2,290.8 327.5,283.3 331.7,278.3Z"/>
<path fill="#f7fcb9" stroke="#96968a" stroke-width="0.6" d="M380.4,250.8 383.3,250.0 385.8,250.4 386.2,255.0 388.3,260.8 385.8,264.2 384.6,267.5 383.3,266.7 381.7,262.5 379.2,258.3 380.0,255.0Z"/>
<path fill="#f7fcb9" stroke="#96968a" stroke-width="0.6" d="M371.7,295.8 385.0,286.7 396.7,287.5 398.3,298.3 396.7,310.0 393.3,312.5 386.7,310.8 380.0,311.7 373.3,310.0 371.7,305.0Z"/>
<path fill="#f7fcb9" stroke="#96968a" stroke-width="0.6" d="M420.0,290.0 446.7,290.0 450.0,298.3 451.7,303.3 448.3,305.0 448.3,310.0 445.0,313.3 441.7,316.7 438.3,317.5 436.7,320.8 433.3,318.3 426.7,319.2 421.7,320.8 416.7,316.7 415.0,308.3 418.3,301.7 418.3,295.0Z"/>
<path fill="#f7fcb9" stroke="#96968a" stroke-width="0.6" d="M441.3,313.3 446.7,309.3 452.0,309.3 457.3,313.3 460.0,317.3 462.7,320.0 465.3,324.0 470.7,326.7 466.7,332.0 460.0,334.7 453.3,337.3 446.7,336.0 444.0,332.0 441.3,326.7 440.0,321.3Z"/>
<path fill="#f7fcb9" stroke="#96968a" stroke-width="0.6" d="M442.0,336.9 449.1,334.8 457.5,336.9 457.5,349.6 454.7,355.3 451.9,359.5 446.2,353.9 441.3,349.6 443.4,344.7Z"/>
<path fill="#f7fcb9" stroke="#96968a" stroke-width="0.6" d="M434.9,349.6 441.3,349.6 446.2,353.9 451.9,359.5 454.0,363.8 454.7,375.1 449.1,376.5 444.8,377.9 440.6,373.6 434.9,368.0 432.1,362.4 431.4,358.1Z"/>
<path fill="#addd8e" stroke="#96968a" stroke-width="0.6" d="M433.5,336.9 442.0,336.9 443.4,344.7 441.3,349.6 434.9,349.6 432.1,348.2Z"/>
<path fill="#41ab5d" stroke="#96968a" stroke-width="0.6" d="M430.0,351.1 433.5,350.4 434.2,354.6 432.1,355.3 430.0,354.6Z"/>
<path fill="#41ab5d" stroke="#96968a" stroke-width="0.6" d="M430.7,355.3 434.2,355.0 433.5,358.1 431.4,358.4Z"/>
<path fill="#41ab5d" stroke="#96968a" stroke-width="0.6" d="M438.2,371.0 441.0,371.6 442.3,376.9 443.7,381.2 445.1,385.4 444.4,389.9 442.0,390.6 440.3,386.1 438.1,381.2 437.5,376.2Z"/>
<path fill="#f7fcb9" stroke="#96968a" stroke-width="0.6" d="M420.8,393.9 426.5,389.6 432.1,388.2 436.4,391.1 437.1,396.7 434.9,402.4 430.7,404.5 426.5,403.8 423.6,398.1Z"/>
<path fill="#78c679" stroke="#96968a" stroke-width="0.6" d="M371.8,312.0 374.8,311.3 377.0,312.0 380.0,312.8 383.0,312.4 386.0,312.8 389.0,312.0 392.0,312.4 395.0,312.8 395.8,315.8 394.3,318.8 392.8,321.8 390.9,325.5 389.0,328.5 386.0,329.3 383.4,333.0 381.5,335.3 377.0,335.3 374.8,332.3 373.3,330.8 370.3,330.8 369.9,326.3 370.3,321.8 371.4,318.8 371.8,315.0Z"/>
<path fill="#f7fcb9" stroke="#96968a" stroke-width="0.6" d="M395.0,312.8 395.8,315.8 396.5,318.8 398.0,321.8 396.5,324.8 398.0,327.8 399.1,330.0 399.5,333.0 398.8,335.3 398.8,339.8 396.5,340.5 392.0,340.5 386.8,339.8 384.5,337.5 383.4,333.0 386.0,329.3 389.0,328.5 390.9,325.5 392.8,321.8 394.3,318.8Z"/>
<path fill="#addd8e" stroke="#96968a" stroke-width="0.6" d="M365.0,318.0 368.0,315.8 370.3,316.5 371.4,318.8 370.3,321.8 369.9,326.3 369.7,330.8 367.3,330.8 366.9,324.8 365.8,321.0Z"/>
<path fill="#78c679" stroke="#96968a" stroke-width="0.6" d="M363.5,318.4 365.0,318.0 365.8,321.0 366.9,324.8 367.3,330.8 365.4,331.1 364.6,324.8 363.9,321.0Z"/>
<path fill="#d9f0a3" stroke="#96968a" stroke-width="0.6" d="M356.0,318.4 363.5,318.4 363.9,321.0 364.6,324.8 365.4,331.1 362.0,333.0 357.5,334.5 356.4,331.5 356.0,324.8Z"/>
<path fill="#d9f0a3" stroke="#96968a" stroke-width="0.6" d="M351.5,317.3 353.0,312.0 357.5,309.0 361.3,307.9 363.5,308.3 365.0,312.0 368.0,315.4 365.0,318.0 363.5,318.4 356.0,318.4 353.0,320.3 351.1,319.5Z"/>
<path fill="#f7fcb9" stroke="#96968a" stroke-width="0.6" d="M345.0,320.0 353.3,320.0 355.8,323.3 355.8,331.7 350.0,333.3 345.0,333.3 343.3,328.3Z"/>
<path fill="#f7fcb9" stroke="#96968a" stroke-width="0.6" d="M323.3,305.0 330.0,304.2 335.0,308.3 336.7,313.3 330.0,313.3 325.0,312.5 324.2,308.3Z"/>
<path fill="#addd8e" stroke="#96968a" stroke-width="0.6" d="M324.7,310.8 331.7,310.3 331.7,311.7 325.0,312.0Z"/>
<path fill="#d9f0a3" stroke="#96968a" stroke-width="0.6" d="M325.0,315.0 333.3,314.2 341.7,316.7 343.3,321.7 341.7,325.0 336.7,326.7 333.3,323.3 330.0,320.0Z"/>
<path fill="#d9f0a3" stroke="#96968a" stroke-width="0.6" d="M332.5,322.5 335.8,321.7 337.5,326.7 335.0,328.3Z"/>
<path fill="#f7fcb9" stroke="#96968a" stroke-width="0.6" d="M422.2,424.2 425.8,422.1 427.9,424.2 424.4,426.4Z"/>
<path fill="#f7fcb9" stroke="#96968a" stroke-width="0.6" d="M432.1,415.1 434.2,414.4 434.9,417.2 432.8,417.9Z"/>
<path fill="#f7fcb9" stroke="#96968a" stroke-width="0.6" d="M457.1,215.9 461.4,213.2 465.6,212.7 470.9,213.8 476.2,214.3 481.5,213.8 482.5,211.6 481.5,207.9 486.8,205.8 492.1,204.8 497.4,203.7 500.5,204.8 504.8,206.9 507.9,207.4 511.1,205.8 514.3,208.5 518.5,211.1 521.7,213.2 527.0,215.4 531.2,217.5 535.5,218.5 538.7,219.1 537.6,220.6 535.5,222.8 533.4,225.4 531.2,227.5 529.1,230.2 531.2,232.8 529.1,234.9 524.9,234.9 520.7,235.5 516.4,236.0 514.3,236.5 510.1,238.1 505.8,240.2 502.6,236.0 499.5,232.8 495.2,231.8 489.9,230.7 484.6,229.1 480.4,228.6 478.8,230.7 479.4,234.9 478.3,237.6 476.2,236.5 474.1,233.9 471.9,230.7 470.9,227.5 469.8,225.4 467.7,224.9 463.5,225.4 461.4,224.9 459.2,223.3 457.6,220.6Z"/>
<path fill="#ffffe5" stroke="#96968a" stroke-width="0.6" d="M479.4,229.6 484.6,229.1 489.9,230.7 495.2,231.8 499.5,232.8 502.6,236.0 505.8,240.2 509.0,242.4 507.9,245.5 504.8,246.6 499.5,244.5 495.2,242.4 491.0,239.2 486.8,236.0 483.6,236.0 480.4,236.0 479.4,232.8Z"/>
<path fill="#ffffe5" stroke="#96968a" stroke-width="0.6" d="M475.1,240.2 479.4,236.0 483.6,236.0 486.8,236.0 491.0,239.2 495.2,242.4 499.5,244.5 498.4,247.6 495.2,251.9 491.0,249.8 486.8,248.2 481.5,247.6 478.3,248.7 476.2,246.6Z"/>
<path fill="#ffffe5" stroke="#96968a" stroke-width="0.6" d="M509.0,236.5 514.3,236.5 520.7,235.5 529.1,234.9 531.2,236.0 527.0,239.2 521.7,240.8 518.5,241.3 515.4,242.4 512.2,241.8 509.5,240.2Z"/>
<path fill="#ffffe5" stroke="#96968a" stroke-width="0.6" d="M507.9,242.4 512.2,241.8 516.4,242.4 519.6,244.5 520.7,247.6 516.4,248.7 512.2,247.6 509.0,246.6Z"/>
<path fill="#d9f0a3" stroke="#96968a" stroke-width="0.6" d="M461.4,239.2 465.6,238.6 468.8,240.2 468.2,244.5 465.6,245.5 462.4,243.4Z"/>
<path fill="#ffffe5" stroke="#96968a" stroke-width="0.6" d="M455.0,236.0 459.2,234.9 462.4,236.5 461.4,239.2 457.1,238.6Z"/>
<path fill="#ffffe5" stroke="#96968a" stroke-width="0.6" d="M443.3,258.7 446.7,258.3 449.2,260.0 448.3,263.3 445.0,265.8 443.7,263.3Z"/>
<path fill="#ffffe5" stroke="#96968a" stroke-width="0.6" d="M539.9,219.0 545.5,215.5 551.2,216.2 556.8,214.8 558.2,211.9 563.9,213.4 570.9,216.2 578.0,216.9 583.6,217.6 590.7,216.2 597.8,216.9 599.2,218.3 600.6,220.4 606.2,223.2 607.7,224.6 603.4,226.1 599.2,228.9 594.9,230.3 594.9,233.8 589.3,235.9 583.6,237.4 576.6,235.9 569.5,234.5 563.9,233.1 558.2,230.3 551.2,227.5 548.4,224.6 544.1,221.8Z"/>
<path fill="#f7fcb9" stroke="#96968a" stroke-width="0.6" d="M538.7,219.1 537.6,220.6 535.5,222.8 533.4,225.4 531.2,227.5 529.1,230.2 531.2,232.8 529.1,234.9 531.2,236.0 527.0,239.2 521.7,240.8 518.5,241.3 519.6,244.5 520.7,247.6 521.2,249.8 523.3,250.8 526.7,251.7 530.0,255.0 535.0,261.7 538.3,266.7 540.0,267.5 546.7,269.2 553.3,271.7 558.3,274.2 562.5,273.3 567.5,273.3 568.3,271.7 575.0,270.8 578.3,272.5 579.2,273.3 583.3,276.7 585.0,281.7 589.2,285.8 590.8,290.0 595.0,287.5 600.0,286.7 605.0,290.0 607.5,291.7 610.0,290.0 613.3,290.0 617.5,288.3 621.7,286.7 626.7,284.2 630.0,280.0 632.5,275.0 633.3,270.0 631.7,265.8 630.0,262.5 625.8,258.3 622.5,255.8 623.3,252.5 625.8,250.0 622.5,249.2 618.3,247.5 615.0,245.0 617.5,241.7 621.7,242.5 623.3,240.8 626.7,240.0 630.0,238.3 633.3,235.8 635.8,233.3 637.5,226.7 636.7,220.0 635.9,221.8 634.5,221.1 628.8,221.8 623.2,219.0 617.5,216.2 611.9,211.9 607.7,209.1 603.4,208.4 599.9,209.1 599.2,214.8 597.8,216.9 599.2,218.3 600.6,220.4 606.2,223.2 607.7,224.6 603.4,226.1 599.2,228.9 594.9,230.3 594.9,233.8 589.3,235.9 583.6,237.4 576.6,235.9 569.5,234.5 563.9,233.1 558.2,230.3 551.2,227.5 548.4,224.6 544.1,221.8 539.9,219.0Z"/>
<path fill="#f7fcb9" stroke="#96968a" stroke-width="0.6" d="M610.0,295.8 613.3,295.0 614.2,297.5 610.8,299.2Z"/>
<path fill="url(#hatch)" stroke="#c9c9c9" stroke-width="0.6" d="M634.2,281.7 636.3,280.8 637.0,285.0 635.8,289.2 634.2,286.7Z"/>
<path fill="#f7fcb9" stroke="#96968a" stroke-width="0.6" d="M633.3,235.8 636.7,235.0 638.3,239.2 635.8,243.3 635.8,246.7 633.3,245.0 631.7,243.3 630.0,240.8Z"/>
<path fill="#f7fcb9" stroke="#96968a" stroke-width="0.6" d="M635.8,246.7 638.3,248.3 641.7,251.7 643.3,255.0 640.8,256.7 637.5,255.8 635.8,252.5 635.0,248.3Z"/>
<path fill="#f7fcb9" stroke="#96968a" stroke-width="0.6" d="M659.3,238.3 660.7,239.3 662.7,241.0 664.7,243.0 665.7,245.0 666.3,248.3 667.3,251.7 668.0,253.7 666.7,255.7 664.7,256.3 662.0,257.0 660.0,258.3 659.3,259.7 657.3,258.3 655.3,257.7 653.3,258.3 651.3,259.0 649.3,258.3 646.7,259.7 648.7,257.0 651.3,255.0 654.0,253.7 656.7,252.3 657.3,250.3 658.3,250.0 660.0,250.3 661.0,248.3 661.3,245.0 660.3,242.3 659.7,240.3Z"/>
<path fill="#f7fcb9" stroke="#96968a" stroke-width="0.6" d="M646.7,259.7 649.3,259.0 650.7,261.0 651.3,263.7 650.0,265.0 648.7,264.3 647.3,262.3Z"/>
<path fill="#f7fcb9" stroke="#96968a" stroke-width="0.6" d="M652.7,258.3 655.3,258.0 656.7,259.0 654.7,260.0 653.0,259.7Z"/>
<path fill="#f7fcb9" stroke="#96968a" stroke-width="0.6" d="M655.7,228.3 658.0,230.3 660.7,231.7 664.7,231.3 666.7,233.7 664.7,235.0 663.3,237.0 661.3,236.7 659.3,237.7 658.0,237.3 656.7,235.0 656.0,232.3Z"/>
<path fill="#41ab5d" stroke="#96968a" stroke-width="0.6" d="M524.2,255.8 530.0,255.0 535.0,261.7 538.3,266.7 540.0,267.5 540.8,270.0 546.7,272.5 553.3,275.8 559.5,277.5 559.8,274.0 561.5,273.5 561.8,277.0 568.5,276.8 569.0,274.5 572.0,270.5 577.0,270.0 579.5,273.5 580.0,275.0 578.0,276.0 576.5,277.0 575.5,280.0 574.5,284.0 573.5,287.0 572.0,292.0 571.0,290.0 569.5,286.0 569.0,284.0 570.0,282.5 567.0,281.0 565.0,280.0 563.0,279.0 560.5,280.0 561.0,282.5 562.0,285.0 563.0,287.0 564.0,288.5 563.3,290.0 560.0,291.3 559.3,294.0 556.7,296.0 554.0,299.3 550.7,302.7 547.3,305.3 546.0,306.7 546.0,310.7 546.3,314.7 545.0,320.0 543.0,324.0 541.3,326.0 539.0,322.0 535.0,316.0 532.0,309.0 530.0,304.0 528.0,297.0 526.7,298.3 525.0,293.3 521.7,291.7 518.3,288.3 517.5,285.0 519.2,283.3 521.7,281.7 520.0,275.0 523.3,270.0 526.7,265.0 525.0,260.0Z"/>
<path fill="#addd8e" stroke="#96968a" stroke-width="0.6" d="M521.7,250.8 526.7,251.7 530.0,255.0 524.2,255.8 525.0,260.0 526.7,265.0 523.3,270.0 520.0,275.0 521.7,281.7 519.2,283.3 518.3,283.3 513.3,280.8 506.7,280.0 501.7,279.2 500.8,273.3 506.7,270.0 511.7,265.8 514.2,260.0 516.7,255.0Z"/>
<path fill="#f7fcb9" stroke="#96968a" stroke-width="0.6" d="M496.7,250.8 503.3,250.0 510.0,248.3 515.0,247.5 518.3,250.0 521.7,250.8 516.7,255.0 514.2,260.0 511.7,265.8 506.7,270.0 500.8,273.3 500.0,270.0 498.3,265.0 497.5,258.3Z"/>
<path fill="#f7fcb9" stroke="#96968a" stroke-width="0.6" d="M540.0,267.5 546.7,270.0 553.3,272.5 558.3,275.0 558.3,277.5 553.3,275.8 546.7,272.5 540.8,270.0Z"/>
<path fill="#ffffe5" stroke="#96968a" stroke-width="0.6" d="M561.8,273.8 564.0,273.0 567.0,273.2 568.8,274.2 568.5,276.8 565.0,277.0 561.8,277.0Z"/>
<path fill="#238443" stroke="#96968a" stroke-width="0.6" d="M560.5,280.0 563.0,279.0 565.0,280.0 567.0,281.0 570.0,282.0 570.5,283.0 569.0,284.5 569.5,286.0 570.5,288.5 570.2,290.2 568.5,290.2 566.5,290.0 564.5,289.8 563.5,288.5 563.0,287.0 562.0,285.0 561.0,282.5Z"/>
<path fill="#d9f0a3" stroke="#96968a" stroke-width="0.6" d="M546.5,322.0 548.0,321.5 550.0,324.0 551.0,328.0 550.0,331.0 548.0,331.0 546.5,327.0Z"/>
<path fill="#f7fcb9" stroke="#96968a" stroke-width="0.6" d="M579.2,273.3 583.3,276.7 585.0,281.7 589.2,285.8 590.8,290.0 586.7,293.3 585.0,296.7 585.0,296.7 586.7,306.7 588.3,311.7 589.7,317.5 589.2,320.8 588.0,318.3 586.7,311.7 585.0,305.0 578.7,305.3 577.3,302.0 575.3,297.3 572.7,293.3 571.3,292.3 572.0,292.0 573.5,287.0 574.5,284.0 575.5,280.0 576.5,277.0 578.0,276.0 580.0,275.0Z"/>
<path fill="#addd8e" stroke="#96968a" stroke-width="0.6" d="M584.2,296.7 590.0,293.3 593.3,295.0 596.7,298.3 601.7,301.7 603.3,306.7 600.0,310.0 597.5,313.3 593.3,313.3 591.7,316.7 590.0,319.2 589.2,323.3 591.7,326.7 595.0,329.2 597.5,330.8 595.0,331.7 591.7,329.2 589.2,325.8 588.3,321.7 589.7,317.5 588.3,311.7 586.7,306.7 585.0,301.7Z"/>
<path fill="#ffffe5" stroke="#96968a" stroke-width="0.6" d="M590.8,290.0 595.0,287.5 599.2,288.3 601.7,291.7 604.2,296.7 601.7,295.0 605.0,301.7 608.3,308.3 604.2,309.2 601.7,305.0 598.3,301.7 595.0,296.7 592.5,294.2 590.0,293.3Z"/>
<path fill="#d9f0a3" stroke="#96968a" stroke-width="0.6" d="M595.0,287.5 600.0,286.7 605.0,290.0 607.5,291.7 605.8,296.7 608.3,301.7 611.7,306.7 613.3,311.7 612.5,316.7 608.3,319.2 613.3,314.2 610.8,318.3 605.0,323.3 603.3,320.8 606.7,318.3 609.2,315.0 608.3,310.0 605.0,303.3 601.7,296.7 604.2,296.7 601.7,291.7 599.2,288.3Z"/>
<path fill="#d9f0a3" stroke="#96968a" stroke-width="0.6" d="M597.5,313.3 600.0,310.0 604.2,309.2 608.3,310.0 609.2,315.0 606.7,318.3 603.3,320.0 600.0,318.3Z"/>
<path fill="#ffffe5" stroke="#96968a" stroke-width="0.6" d="M595.0,330.8 597.5,330.8 600.0,335.0 602.5,340.0 603.3,343.3 600.8,343.3 598.3,340.0 595.8,335.0Z"/>
<path fill="#ffffe5" stroke="#96968a" stroke-width="0.6" d="M582.5,333.3 586.7,334.2 591.7,338.3 596.7,343.3 601.7,348.3 605.8,353.3 607.5,358.3 606.7,361.7 603.3,360.0 598.3,355.0 593.3,348.3 588.3,341.7 584.2,336.7Z"/>
<path fill="#ffffe5" stroke="#96968a" stroke-width="0.6" d="M664.2,349.2 670.0,348.3 673.3,351.7 676.7,352.5 681.7,351.7 686.7,353.3 686.7,368.3 681.7,366.7 678.3,363.3 675.0,358.3 670.8,355.8 668.3,353.3 665.0,351.7Z"/>
<path fill="#ffffe5" stroke="#96968a" stroke-width="0.6" d="M686.7,353.3 693.3,356.7 698.3,358.3 700.0,361.7 703.3,366.7 708.3,373.3 703.3,373.3 698.3,370.0 693.3,368.3 686.7,368.3Z"/>
<path fill="#ffffe5" stroke="#96968a" stroke-width="0.6" d="M705.0,361.7 710.0,360.0 713.3,356.7 715.0,358.3 711.7,362.5 706.7,363.3Z"/>
<path fill="#f7fcb9" stroke="#96968a" stroke-width="0.6" d="M637.0,298.7 640.0,298.3 641.7,301.0 641.3,304.3 640.7,307.7 642.0,309.3 645.3,310.7 647.0,312.3 646.7,313.7 644.3,312.3 641.3,311.0 639.3,310.0 638.0,308.3 636.7,305.0 636.3,301.7Z"/>
<path fill="#f7fcb9" stroke="#96968a" stroke-width="0.6" d="M638.3,312.0 640.0,311.7 641.0,314.0 640.0,314.7 638.5,313.3Z"/>
<path fill="#f7fcb9" stroke="#96968a" stroke-width="0.6" d="M647.0,313.7 649.3,314.0 651.0,315.7 651.3,318.0 650.0,320.0 649.0,319.7 647.7,317.0 648.0,315.0Z"/>
<path fill="#f7fcb9" stroke="#96968a" stroke-width="0.6" d="M642.3,316.3 644.7,316.3 646.0,318.0 646.7,319.7 646.0,321.7 645.0,323.0 644.3,321.3 643.7,319.0 642.7,318.0Z"/>
<path fill="#f7fcb9" stroke="#96968a" stroke-width="0.6" d="M643.7,326.3 646.0,324.7 648.0,325.0 650.0,323.7 651.7,322.0 653.3,323.0 654.0,327.0 653.0,329.7 652.0,331.7 650.0,331.0 648.7,329.0 646.7,328.3 644.3,328.3Z"/>
<path fill="#f7fcb9" stroke="#96968a" stroke-width="0.6" d="M632.3,325.0 636.7,318.0 637.7,318.3 633.0,325.3Z"/>
<path fill="#ffffe5" stroke="#96968a" stroke-width="0.6" d="M610.0,362.5 614.2,364.2 618.3,365.0 622.5,365.8 626.7,367.5 628.3,368.8 625.8,369.2 621.7,368.3 616.7,367.1 612.5,365.8 610.0,365.4 608.3,364.2Z"/>
<path fill="#ffffe5" stroke="#96968a" stroke-width="0.6" d="M614.6,342.9 616.2,342.1 619.2,341.2 621.7,339.6 624.6,336.7 626.7,334.6 628.3,332.9 630.0,330.8 632.1,329.2 634.2,330.0 636.7,332.5 637.1,333.8 635.0,336.7 634.6,339.6 635.4,342.5 636.7,344.6 635.0,345.8 634.2,349.2 632.5,351.7 630.8,355.8 629.6,357.1 626.7,356.2 623.3,355.8 620.0,354.6 617.9,354.2 616.7,351.7 615.4,348.3 614.6,345.8Z"/>
<path fill="#ffffe5" stroke="#96968a" stroke-width="0.6" d="M637.5,345.8 640.8,344.6 645.0,343.8 648.3,343.3 651.7,342.9 651.2,344.6 647.5,345.4 644.2,345.8 641.7,346.7 640.8,348.8 644.2,349.2 646.7,348.8 645.0,350.0 642.9,350.8 643.3,354.2 644.2,356.7 646.2,360.0 645.4,361.7 643.3,360.0 642.1,358.3 640.0,357.5 639.2,360.0 638.3,361.2 637.5,358.3 636.7,354.2 637.5,350.0 638.3,347.5Z"/>
<path fill="#ffffe5" stroke="#96968a" stroke-width="0.6" d="M631.2,369.2 634.2,368.3 636.2,369.2 634.2,370.4 631.7,370.4Z"/>
<path fill="#ffffe5" stroke="#96968a" stroke-width="0.6" d="M638.3,368.8 641.7,368.2 645.4,368.3 644.2,369.6 640.8,370.0 638.8,370.0Z"/>
<path fill="#ffffe5" stroke="#96968a" stroke-width="0.6" d="M646.7,372.5 650.0,370.0 653.3,368.8 655.4,368.3 654.2,370.0 650.8,371.7 647.9,373.8Z"/>
<path fill="#ffffe5" stroke="#96968a" stroke-width="0.6" d="M636.7,371.2 638.8,371.7 639.6,373.3 637.5,372.9Z"/>
<path fill="#ffffe5" stroke="#96968a" stroke-width="0.6" d="M656.7,341.7 658.3,341.2 659.2,343.8 658.3,345.4 658.8,348.3 657.9,349.2 657.1,346.7Z"/>
<path fill="#ffffe5" stroke="#96968a" stroke-width="0.6" d="M653.3,355.0 655.4,354.6 656.2,355.8 654.2,356.2Z"/>
<path fill="#ffffe5" stroke="#96968a" stroke-width="0.6" d="M658.3,354.6 661.7,354.2 664.2,355.0 664.6,356.7 661.7,356.2 659.2,355.8Z"/>
<path fill="#ffffe5" stroke="#96968a" stroke-width="0.6" d="M614.7,435.3 617.3,428.7 616.7,422.0 618.0,414.0 620.0,406.0 623.3,402.7 630.0,400.0 636.7,397.3 642.0,391.3 644.7,390.0 650.0,384.7 654.0,383.3 658.0,385.3 660.7,381.3 666.0,376.7 668.7,378.0 672.7,378.7 676.0,379.3 672.7,386.0 676.7,388.7 682.0,392.7 684.7,388.7 687.3,383.3 689.3,375.3 691.3,380.7 693.3,384.7 694.7,392.7 698.0,398.0 700.7,404.7 704.7,410.0 705.3,416.7 703.3,422.0 700.7,426.0 695.3,431.3 690.0,438.0 684.7,443.3 679.3,446.0 674.0,447.3 668.7,446.0 666.0,442.0 664.7,436.7 662.7,434.0 660.7,436.7 658.0,435.3 655.3,430.0 650.0,428.7 643.3,430.0 636.7,432.0 630.0,434.0 623.3,435.3 618.0,438.0 615.3,437.3Z"/>
<path fill="#ffffe5" stroke="#96968a" stroke-width="0.6" d="M667.5,453.8 675.0,452.5 676.2,456.2 671.2,460.0 668.0,458.8Z"/>
<path fill="#ffffe5" stroke="#96968a" stroke-width="0.6" d="M730.0,452.5 735.0,447.5 738.8,442.5 740.0,437.5 741.2,441.2 743.8,445.0 746.2,445.5 743.8,448.8 738.8,451.2 736.2,455.0 732.5,455.0Z"/>
<path fill="#ffffe5" stroke="#96968a" stroke-width="0.6" d="M705.0,466.2 712.5,462.5 720.0,458.8 727.5,456.2 731.2,453.8 730.0,457.5 725.0,461.2 717.5,465.0 710.0,468.8 706.2,468.8Z"/>
<path fill="#ffffe5" stroke="#96968a" stroke-width="0.6" d="M734.5,399.5 737.0,401.0 740.0,405.0 738.0,405.0 735.0,402.0Z"/>
<path fill="#ffffe5" stroke="#96968a" stroke-width="0.6" d="M743.2,385.5 744.5,385.5 745.5,390.5 744.2,390.5Z"/>
<path fill="#ffffe5" stroke="#96968a" stroke-width="0.6" d="M718.8,361.2 722.5,363.0 722.0,364.5 718.5,362.8Z"/>
<path fill="#ffffe5" stroke="#96968a" stroke-width="0.6" d="M726.2,367.5 731.2,370.0 730.5,371.5 725.8,369.0Z"/>
<path fill="#ffffe5" stroke="#96968a" stroke-width="0.6" d="M730.0,365.0 734.5,372.5 733.2,373.0 729.2,366.2Z"/>
<path fill="#ffffe5" stroke="#96968a" stroke-width="0.6" d="M766.2,392.5 772.5,390.0 773.0,391.5 767.5,394.0Z"/>
<path fill="#f7fcb9" stroke="#96968a" stroke-width="0.6" d="M9.2,294.6 10.8,294.2 12.1,295.6 11.0,297.1 9.4,297.5 9.0,296.0Z"/>
<path fill="#f7fcb9" stroke="#96968a" stroke-width="0.6" d="M5.0,290.2 6.2,290.4 7.9,291.2 9.8,292.3 9.6,293.1 7.9,292.7 6.2,291.9 5.2,291.2Z"/>
<path fill="#f7fcb9" stroke="#96968a" stroke-width="0.6" d="M2.0,289.0 3.5,288.8 3.8,289.5 2.2,289.7Z"/>
<path fill="#ffffe5" stroke="#96968a" stroke-width="0.6" d="M0.0,341.9 1.2,342.1 1.2,342.8 0.0,342.8Z"/>
<path fill="none" stroke="#96968a" stroke-width="0.6" d="M196.8,319.9 195.4,324.1 198.2,328.4 203.9,331.2 206.7,332.6 207.4,336.8 208.1,342.5M208.1,343.9 210.9,345.3 215.2,343.2 215.2,337.5 219.4,336.8 222.9,335.4 224.4,335.4M223.6,325.5 222.2,331.2 224.4,335.4 226.5,342.5 230.7,341.8 232.8,341.8M229.3,332.6 230.7,338.2 232.8,341.8 239.2,340.4M208.1,342.5 202.5,343.2 201.1,346.7 201.8,352.4 200.4,356.6M200.4,356.6 196.8,353.1 192.6,352.4 189.8,349.5 185.5,345.3 182.0,343.9M189.8,348.8 186.2,352.4 182.7,355.2 179.9,358.0 177.1,358.0M200.4,356.6 196.8,359.4 193.3,363.6 192.6,367.9 195.4,372.1 200.4,374.2 203.9,375.7 205.3,376.4M194.1,370.0 201.2,374.9 205.4,375.6 204.7,384.1 203.3,394.0M205.4,375.6 212.5,372.8 213.9,377.8 219.5,381.3 225.2,384.1 226.6,389.8 230.8,393.3 232.2,398.2 231.5,399.6M203.3,394.0 207.5,402.5 210.4,407.4M209.6,412.4 210.4,407.4M384.0,195.2 384.5,189.5 384.7,183.9 387.3,178.2 391.1,174.5 395.8,171.6 398.6,170.9 402.8,174.5 403.8,177.8M398.6,170.9 402.4,171.6 406.1,169.8 408.9,169.3 411.3,170.7 412.7,168.8M412.7,170.2 413.6,174.5 415.5,178.2 416.5,182.0 419.3,185.8 416.5,189.5 414.6,191.9M343.3,275.0 350.0,281.7 371.7,295.8M350.0,281.7 350.8,305.0 343.3,306.7 336.7,308.3 335.0,308.3M384.2,260.0 385.0,275.0 385.0,286.7M418.3,264.2 418.3,295.0M396.7,287.5 416.7,295.8M398.3,325.0 403.3,325.0 408.3,319.2 413.3,318.3 416.7,316.7M420.0,325.0 423.3,326.7 428.3,330.0M400.0,335.0 403.3,334.2 408.3,336.7 413.3,335.0 418.3,334.2 423.3,333.3 428.3,330.0 433.3,332.5 436.7,330.8 441.7,330.0 443.3,325.0M398.3,341.7 401.7,345.0 403.3,355.0M353.3,320.0 350.8,315.0 346.7,315.0 341.7,310.0 336.7,308.3M343.3,328.3 341.7,325.0M446.7,301.3 449.3,302.7 452.0,305.3 456.0,308.0 460.0,313.3M384.1,341.2 398.2,341.2M395.4,342.6 396.8,348.2 394.0,353.9 391.2,355.3M404.6,334.1 403.9,339.1 402.5,348.2 398.9,356.0 392.6,360.9M397.5,322.8 398.2,328.5 398.9,334.1 405.3,334.1M391.2,360.7 398.2,362.8 402.5,362.1 408.1,365.6 412.4,365.6 413.1,375.5 419.4,377.6 425.1,379.1 429.3,381.2 430.7,379.8 427.9,376.2 429.3,369.9 433.5,368.5 437.8,371.3M413.1,375.5 412.4,381.2 413.8,391.1 416.6,393.9M389.8,391.8 398.2,392.5 409.5,393.2 416.6,393.9M416.6,393.9 420.8,394.6 426.5,390.4 432.1,386.8 436.4,384.7 439.2,381.2M438.5,371.3 444.8,375.5 454.7,374.8M408.1,393.9 410.2,406.6 408.1,416.5M408.1,416.5 412.4,413.6 416.6,412.9 420.8,408.0 426.5,405.2 429.3,403.8M400.4,422.1 407.4,422.1 408.1,416.5M433.5,403.8 434.2,409.4 435.7,413.6M616.2,343.8 620.0,344.2 622.5,342.9 625.0,342.5 626.7,341.7 628.3,339.2 630.0,336.7 632.5,335.4 635.0,335.8M460.7,301.3 466.7,301.3 473.3,300.0 481.3,297.3 484.0,302.7M481.3,297.3 486.7,295.3 489.3,289.3 486.7,284.7"/>
</g>
<g id="legend" font-family="Lato, 'Liberation Sans', sans-serif" font-size="13.4" fill="#666">
<text x="181" y="530.6" text-anchor="middle" style="filter:grayscale(1)">No data</text>
<line x1="181" y1="534.5" x2="181" y2="537" stroke="#999" stroke-width="0.6"/>
<rect x="157.5" y="537.5" width="47" height="11" fill="url(#hatch)" stroke="#bbb" stroke-width="0.7"/>
<g stroke="#bbb" stroke-width="0.7">
<rect x="224.5" y="537.5" width="58.5" height="11" fill="#ffffe5"/>
<rect x="283" y="537.5" width="58.5" height="11" fill="#f7fcb9"/>
<rect x="341.5" y="537.5" width="58.5" height="11" fill="#d9f0a3"/>
<rect x="400" y="537.5" width="58.5" height="11" fill="#addd8e"/>
<rect x="458.5" y="537.5" width="58.5" height="11" fill="#78c679"/>
<rect x="517" y="537.5" width="58.5" height="11" fill="#41ab5d"/>
<rect x="575.5" y="537.5" width="58.5" height="11" fill="#238443"/>
<rect x="634" y="537.5" width="58.5" height="11" fill="#005a32"/>
</g>
<g stroke="#999" stroke-width="0.7">
<line x1="224.5" y1="534" x2="224.5" y2="548.5"/>
<line x1="283" y1="534" x2="283" y2="548.5"/>
<line x1="341.5" y1="534" x2="341.5" y2="548.5"/>
<line x1="400" y1="534" x2="400" y2="548.5"/>
<line x1="458.5" y1="534" x2="458.5" y2="548.5"/>
<line x1="517" y1="534" x2="517" y2="548.5"/>
<line x1="575.5" y1="534" x2="575.5" y2="548.5"/>
<line x1="634" y1="534" x2="634" y2="548.5"/>
<line x1="692.5" y1="534" x2="692.5" y2="548.5"/>
</g>
<g text-anchor="middle" style="filter:grayscale(1)">
<text x="224.5" y="530.6">0%</text>
<text x="283" y="530.6">10%</text>
<text x="341.5" y="530.6">20%</text>
<text x="400" y="530.6">30%</text>
<text x="458.5" y="530.6">40%</text>
<text x="517" y="530.6">50%</text>
<text x="575.5" y="530.6">60%</text>
<text x="634" y="530.6">70%</text>
<text x="692.5" y="530.6">80%</text>
</g>
</g>
</svg>
<div class="t" id="foot1"><b>Data source:</b> Food and Agriculture Organization of the United Nations (FAO), via World Bank (2026)</div>
<div class="t" id="foot2">OurWorldinData.org/land-use | CC BY</div>
</body></html>
